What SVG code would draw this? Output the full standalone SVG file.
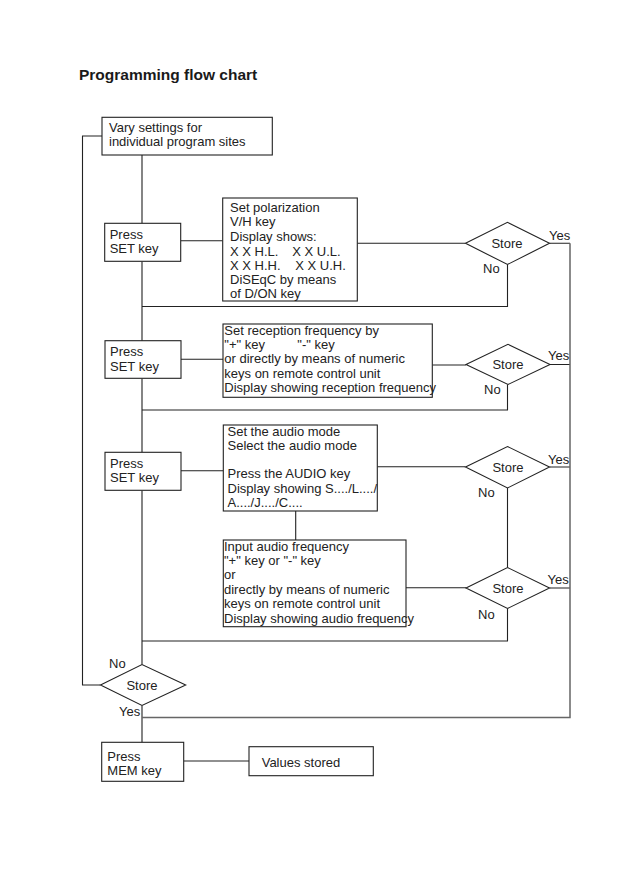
<svg xmlns="http://www.w3.org/2000/svg" width="629" height="893" viewBox="0 0 629 893">
<style>
  text { font-family: "Liberation Sans", Arial, sans-serif; font-size: 13px; fill: #222; }
  .title { font-size: 15.5px; font-weight: bold; fill: #1a1a1a; }
  .box { fill: #fff; stroke: #222; stroke-width: 1.1; }
  .dia { fill: #fff; stroke: #222; stroke-width: 1.1; }
  .ln { fill: none; stroke: #222; stroke-width: 1.1; }
  .ln2 { fill: none; stroke: #666; stroke-width: 1.5; }
  .c { text-anchor: middle; }
</style>
<rect width="629" height="893" fill="#fff"/>
<text class="title" x="79" y="80">Programming flow chart</text>

<g id="connectors">
  <!-- main vertical -->
  <path class="ln" d="M142 155 V223.5 M142 261.5 V341 M142 378.5 V452.5 M142 490.5 V664.5 M142 705.5 V742.5"/>
  <!-- left loop -->
  <path class="ln" d="M100.5 685 H82.5 V136 H102"/>
  <!-- block 1 -->
  <path class="ln" d="M181 240.7 H222.7 M357.3 243.3 H465.5 M507.5 264.5 V306.5 H142 M549.5 243.3 H570"/>
  <!-- block 2 -->
  <path class="ln" d="M181 359.3 H223 M432.3 365 H466 M507.5 384.5 V410 H142 M549.5 364.5 H570"/>
  <!-- block 3 -->
  <path class="ln" d="M181 470.7 H223.3 M377.3 466.7 H465.5 M507.5 488 V567.5 M549.5 467 H570 M295.7 511 V540"/>
  <!-- block 4 -->
  <path class="ln" d="M406 587.7 H466 M507.5 608.5 V641 H142 M549.5 588 H570"/>
  <!-- right return -->
  <path class="ln2" d="M570 243.3 V717.5 H142"/>
  <!-- bottom -->
  <path class="ln" d="M183.7 761 H249"/>
</g>

<g id="start">
  <rect class="box" x="102" y="117.3" width="170.3" height="37.7"/>
  <text x="109" y="131.7">Vary settings for</text>
  <text x="109" y="146">individual program sites</text>
</g>

<g id="set1">
  <rect class="box" x="104.7" y="223.3" width="76" height="38"/>
  <text x="109.7" y="239">Press</text>
  <text x="109.7" y="253.3">SET key</text>
</g>

<g id="polarization">
  <rect class="box" x="222.7" y="198" width="134.6" height="103"/>
  <text x="230" y="211.7">Set polarization</text>
  <text x="230" y="226.3">V/H key</text>
  <text x="230" y="240.8">Display shows:</text>
  <text x="230" y="255.5">X X H.L.</text>
  <text x="292.3" y="255.5">X X U.L.</text>
  <text x="230" y="270">X X H.H.</text>
  <text x="295.3" y="270">X X U.H.</text>
  <text x="230" y="284.3">DiSEqC by means</text>
  <text x="230" y="298.3">of D/ON key</text>
</g>

<g id="store1">
  <polygon class="dia" points="465.5,243.3 507.5,222.3 549.5,243.3 507.5,264.5"/>
  <text class="c" x="507" y="248">Store</text>
  <text x="549" y="240">Yes</text>
  <text x="483" y="273">No</text>
</g>

<g id="set2">
  <rect class="box" x="105" y="340.7" width="76" height="37.6"/>
  <text x="110" y="356">Press</text>
  <text x="110" y="370.5">SET key</text>
</g>

<g id="reception">
  <rect class="box" x="223" y="324" width="209.3" height="73.3"/>
  <text x="224.3" y="335">Set reception frequency by</text>
  <text x="224.3" y="349.2">"+" key</text>
  <text x="297.3" y="349.2">"-" key</text>
  <text x="224.3" y="363.4">or directly by means of numeric</text>
  <text x="224.3" y="377.6">keys on remote control unit</text>
  <text x="224.3" y="391.8">Display showing reception frequency</text>
</g>

<g id="store2">
  <polygon class="dia" points="466,364.5 508,344.3 550,364.5 508,384.5"/>
  <text class="c" x="508" y="369">Store</text>
  <text x="548" y="360">Yes</text>
  <text x="484" y="394">No</text>
</g>

<g id="set3">
  <rect class="box" x="105" y="452.3" width="76" height="38"/>
  <text x="110" y="467.7">Press</text>
  <text x="110" y="481.7">SET key</text>
</g>

<g id="audiomode">
  <rect class="box" x="223.3" y="425" width="154" height="86"/>
  <text x="227.5" y="435.5">Set the audio mode</text>
  <text x="227.5" y="450">Select the audio mode</text>
  <text x="227.5" y="478.3">Press the AUDIO key</text>
  <text x="227.5" y="492.5">Display showing S..../L..../</text>
  <text x="227.5" y="507">A..../J..../C....</text>
</g>

<g id="store3">
  <polygon class="dia" points="465.5,467 507.5,446.5 549.5,467 507.5,488"/>
  <text class="c" x="508" y="471.5">Store</text>
  <text x="548" y="463.5">Yes</text>
  <text x="478" y="497">No</text>
</g>

<g id="audiofreq">
  <rect class="box" x="223.3" y="540" width="182.7" height="86.7"/>
  <text x="224" y="550.5">Input audio frequency</text>
  <text x="224" y="565">"+" key or "-" key</text>
  <text x="224" y="579.3">or</text>
  <text x="224" y="594">directly by means of numeric</text>
  <text x="224" y="608.3">keys on remote control unit</text>
  <text x="224" y="622.7">Display showing audio frequency</text>
</g>

<g id="store4">
  <polygon class="dia" points="466,588 507.5,567.5 549.5,588 507.5,608.5"/>
  <text class="c" x="508" y="593">Store</text>
  <text x="547.5" y="584">Yes</text>
  <text x="478" y="619">No</text>
</g>

<g id="store5">
  <polygon class="dia" points="100.5,685 142,664.5 185.7,685 142,705.5"/>
  <text class="c" x="142" y="689.5">Store</text>
  <text x="109" y="667.5">No</text>
  <text x="119" y="716">Yes</text>
</g>

<g id="mem">
  <rect class="box" x="101.7" y="742.3" width="82" height="39"/>
  <text x="107.3" y="760.7">Press</text>
  <text x="107.3" y="775">MEM key</text>
</g>

<g id="stored">
  <rect class="box" x="249" y="746.7" width="124.3" height="29"/>
  <text x="261.7" y="766.7">Values stored</text>
</g>
</svg>
